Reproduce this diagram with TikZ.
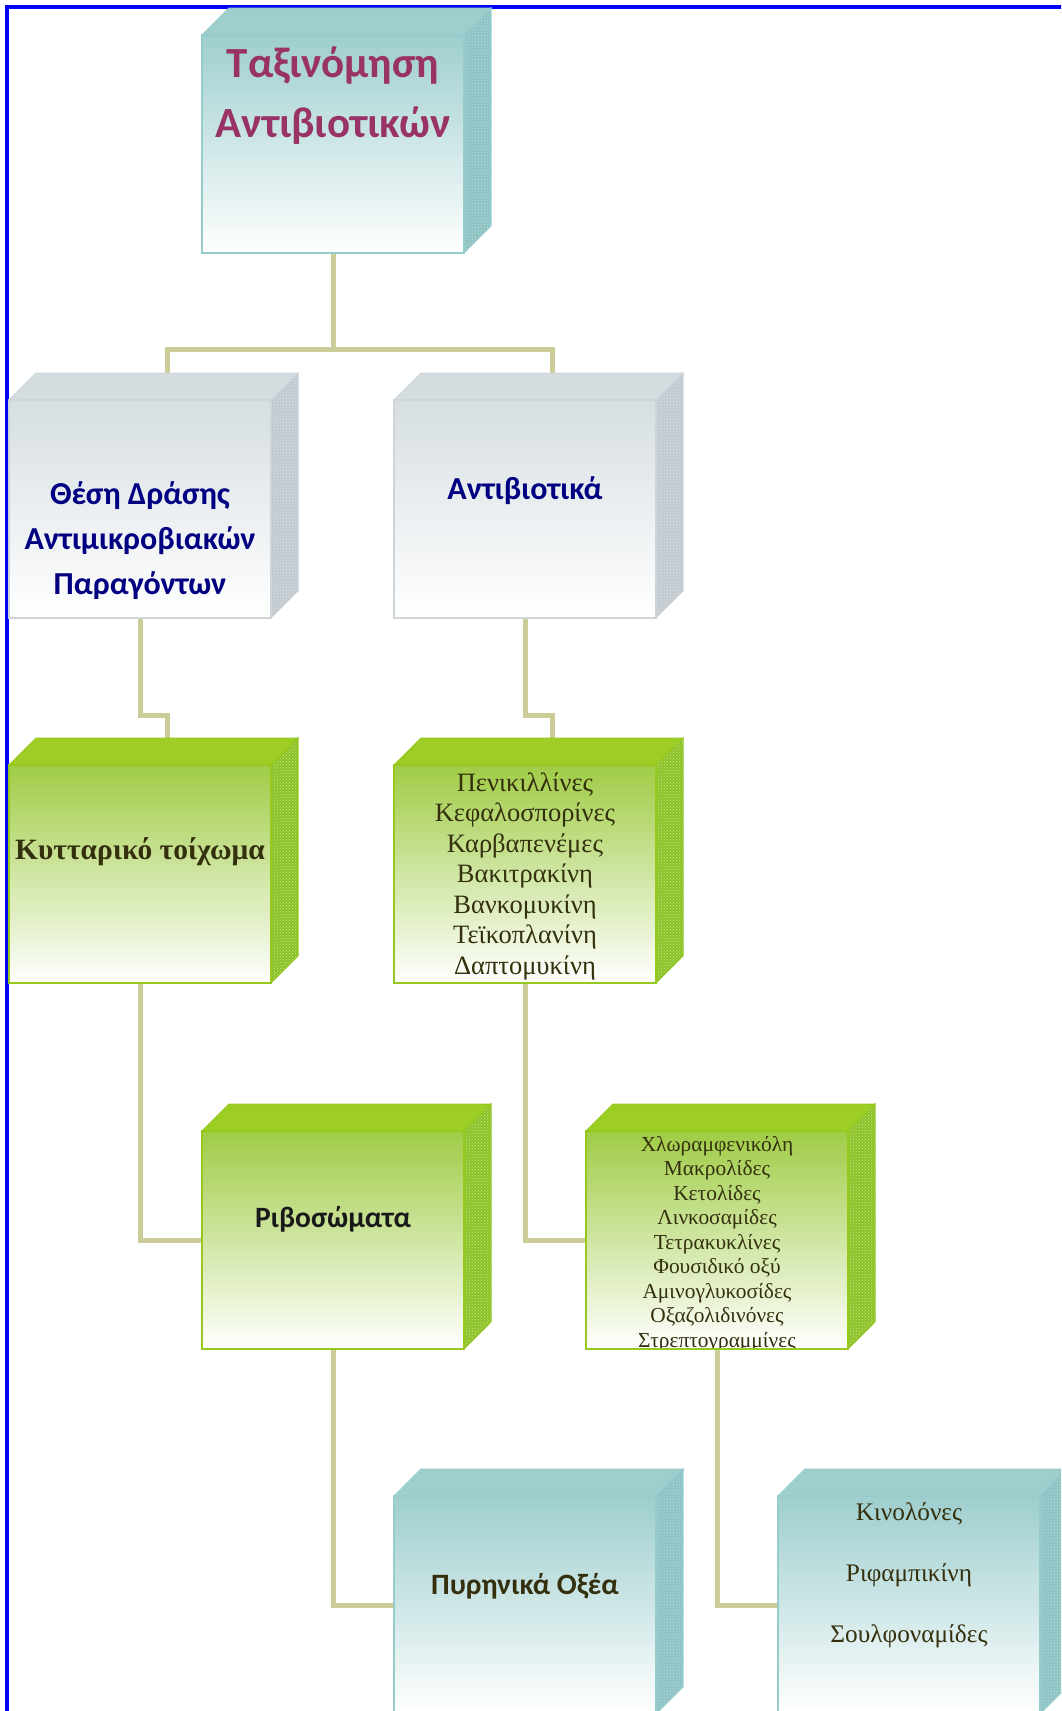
\documentclass[tikz,border=0pt]{standalone}
\usepackage{fontspec}
\setmainfont{Liberation Serif}
\newfontfamily\calibri{Carlito}
\usetikzlibrary{patterns,calc}
\pgfdeclarelayer{bg}
\pgfsetlayers{bg,main}

% palette
\definecolor{tealTop}{RGB}{158,206,206}
\definecolor{tealFace}{RGB}{158,206,206}
\definecolor{tealSide}{RGB}{140,194,194}
\definecolor{tealDots}{RGB}{192,224,224}
\definecolor{tealLine}{RGB}{150,204,204}
\definecolor{grnTop}{RGB}{158,206,38}
\definecolor{grnFace}{RGB}{160,204,70}
\definecolor{grnSide}{RGB}{140,194,40}
\definecolor{grnDots}{RGB}{200,232,140}
\definecolor{grnLine}{RGB}{150,200,30}
\definecolor{gryTop}{RGB}{212,220,224}
\definecolor{gryFace}{RGB}{214,222,226}
\definecolor{grySide}{RGB}{192,201,206}
\definecolor{gryDots}{RGB}{226,230,233}
\definecolor{gryLine}{RGB}{205,212,218}
\definecolor{connKhaki}{RGB}{204,204,153}
\definecolor{titleMag}{RGB}{153,51,102}
\definecolor{navyTxt}{RGB}{0,0,128}
\definecolor{oliveTxt}{RGB}{52,48,14}

\tikzset{
  x=1pt, y=-1pt,
  front/.style={anchor=north west, minimum width=262pt, minimum height=218pt,
    inner sep=0pt, outer sep=0pt, line width=1.6pt},
  conn/.style={draw=connKhaki, line width=5pt},
  tealbox/.style={front, shade, top color=tealFace, middle color=tealFace!30!white,
    bottom color=white, draw=tealLine},
  grnbox/.style={front, shade, top color=grnFace, middle color=grnFace!35!white,
    bottom color=white, draw=grnLine},
  grybox/.style={front, shade, top color=gryFace, middle color=gryFace!45!white,
    bottom color=white, draw=gryLine},
  lbl/.style={align=center, inner sep=0pt, anchor=center},
}

% a box with its top and right faces; #1 name, #2/#3 front top-left corner, #4 theme
\newcommand\drawcube[4]{%
  \node[#4box] (#1) at (#2,#3) {};
  \fill[#4Top, draw=#4Line, line width=1pt]
    (#1.north west) -- ($(#1.north west)+(27,-27)$) -- ($(#1.north east)+(27,-27)$)
    -- (#1.north east) -- cycle;
  \fill[#4Side]
    (#1.north east) -- ($(#1.north east)+(27,-27)$) -- ($(#1.south east)+(27,-27)$)
    -- (#1.south east) -- cycle;
  \fill[pattern=crosshatch dots, pattern color=#4Dots]
    (#1.north east) -- ($(#1.north east)+(27,-27)$) -- ($(#1.south east)+(27,-27)$)
    -- (#1.south east) -- cycle;
  \draw[#4Line, line width=1pt]
    (#1.north east) -- ($(#1.north east)+(27,-27)$) -- ($(#1.south east)+(27,-27)$)
    -- (#1.south east);
  \draw[#4Line, line width=1.6pt] (#1.north west) rectangle (#1.south east);
  \coordinate (#1top) at ($(#1.north)+(27,-27)$);
}

\begin{document}
\begin{tikzpicture}
\useasboundingbox (0,0) rectangle (1061,1711);
\clip (0,0) rectangle (1061,1711);
\begin{pgfonlayer}{bg}
\fill[white] (0,0) rectangle (1061,1711);
\end{pgfonlayer}

% frame
\draw[blue, line width=4pt] (6.5,1720) -- (6.5,6.5) -- (1070,6.5);

% boxes
\drawcube{b1}{202}{35}{teal}
\drawcube{b2}{9}{400}{gry}
\drawcube{b3}{394}{400}{gry}
\drawcube{b4}{9}{765}{grn}
\drawcube{b5}{394}{765}{grn}
\drawcube{b6}{202}{1131}{grn}
\drawcube{b7}{586}{1131}{grn}
\drawcube{b8}{394}{1496}{teal}
\drawcube{b9}{778}{1496}{teal}

% connectors, kept behind the boxes
\coordinate (bar1) at (0,349);
\coordinate (bar2) at (0,715);
\begin{pgfonlayer}{bg}
\draw[conn] (b1.south) -- (b1.south |- bar1);
\draw[conn] (b2top) |- (b1.south |- bar1) -| (b3top);
\draw[conn] (b2.south) -- (b2.south |- bar2) -| (b4top);
\draw[conn] (b3.south) -- (b3.south |- bar2) -| (b5top);
\draw[conn] (b4.south) |- (b6.west);
\draw[conn] (b5.south) |- (b7.west);
\draw[conn] (b6.south) |- (b8.west);
\draw[conn] (b7.south) |- (b9.west);
\end{pgfonlayer}

% labels
\node[lbl, text=titleMag, font=\calibri\bfseries\fontsize{43}{60}\selectfont]
  (l1) at (333,96) {Ταξινόμηση\\Αντιβιοτικών};
\node[lbl, text=navyTxt, font=\calibri\bfseries\fontsize{32}{45}\selectfont]
  (l2) at (140,541) {Θέση Δράσης\\Αντιμικροβιακών\\Παραγόντων};
\node[lbl, text=navyTxt, font=\calibri\bfseries\fontsize{32}{45}\selectfont]
  (l3) at (525,491) {Αντιβιοτικά};
\node[lbl, text=oliveTxt, font=\bfseries\fontsize{29.5}{34}\selectfont]
  (l4) at (140,852) {Κυτταρικό τοίχωμα};
\node[lbl, text=oliveTxt, font=\fontsize{26.5}{30.5}\selectfont]
  (l5) at (525,876) {Πενικιλλίνες\\Κεφαλοσπορίνες\\Καρβαπενέμες\\Βακιτρακίνη\\Βανκομυκίνη\\Τεϊκοπλανίνη\\Δαπτομυκίνη};
\node[lbl, text=black!90, font=\calibri\bfseries\fontsize{29.5}{34}\selectfont]
  (l6) at (333,1219) {Ριβοσώματα};
\begin{scope}
  \clip (b7.north west) rectangle (b7.south east);
  \node[lbl, text=oliveTxt, font=\fontsize{21.4}{24.5}\selectfont]
    (l7) at (717,1244) {Χλωραμφενικόλη\\Μακρολίδες\\Κετολίδες\\Λινκοσαμίδες\\Τετρακυκλίνες\\Φουσιδικό οξύ\\Αμινογλυκοσίδες\\Οξαζολιδινόνες\\Στρεπτογραμμίνες};
\end{scope}
\draw[grnLine, line width=1.6pt] (b7.south west) -- (b7.south east);
\node[lbl, text=oliveTxt, font=\calibri\bfseries\fontsize{29.5}{34}\selectfont]
  (l8) at (525,1586) {Πυρηνικά Οξέα};
\node[lbl, text=oliveTxt, font=\fontsize{25.3}{61}\selectfont]
  (l9) at (909,1575) {Κινολόνες\\Ριφαμπικίνη\\Σουλφοναμίδες};
\end{tikzpicture}
\end{document}
